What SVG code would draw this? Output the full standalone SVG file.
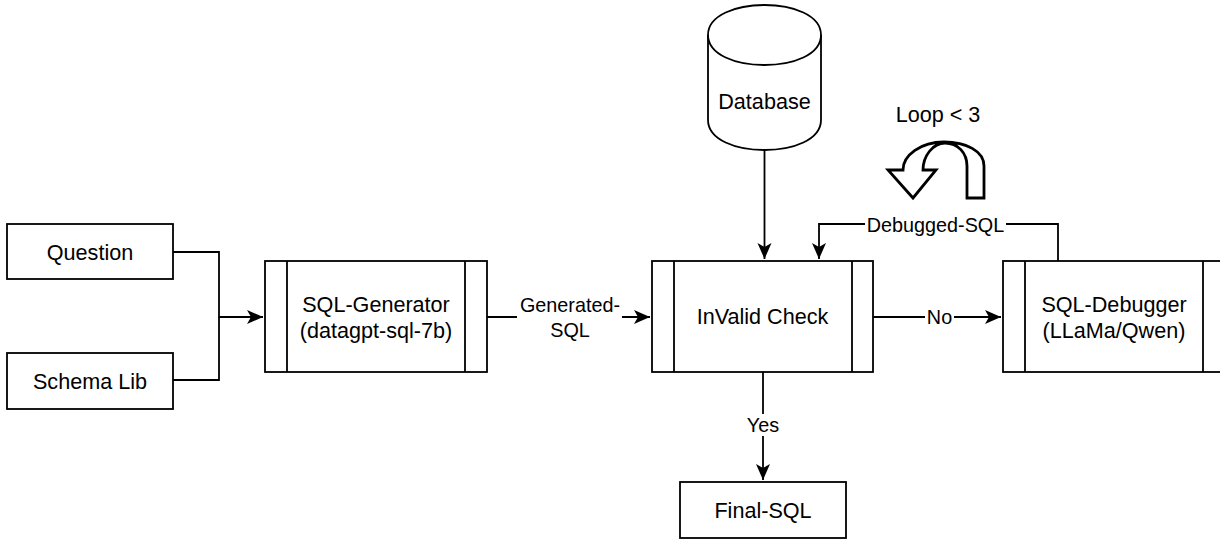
<svg xmlns="http://www.w3.org/2000/svg" width="1220" height="539" viewBox="0 0 1220 539">
<style>
.box{fill:#fff;stroke:#000;stroke-width:1.8}
.ln{fill:none;stroke:#000;stroke-width:1.8}
.t{font-family:"Liberation Sans",Arial,sans-serif;font-size:21.6px;fill:#000;text-anchor:middle}
.e{font-family:"Liberation Sans",Arial,sans-serif;font-size:19.8px;fill:#000;text-anchor:middle}
.bg{fill:#fff;stroke:none}
</style>
<defs>
<marker id="arr" markerUnits="userSpaceOnUse" markerWidth="18" markerHeight="16" refX="16" refY="7" orient="auto">
<path d="M0,0 L16,7 L0,14 L4,7 Z" fill="#000"/>
</marker>
</defs>
<rect width="1220" height="539" fill="#fff"/>
<g id="connectors">
<path class="ln" d="M173,252 H219 V317 H263" marker-end="url(#arr)"/>
<path class="ln" d="M173,380 H219 V317"/>
<path class="ln" d="M487,317 H650" marker-end="url(#arr)"/>
<path class="ln" d="M764.5,150 V259" marker-end="url(#arr)"/>
<path class="ln" d="M873,317 H1001" marker-end="url(#arr)"/>
<path class="ln" d="M1058,261 V224 H819 V259" marker-end="url(#arr)"/>
<path class="ln" d="M763,372 V480" marker-end="url(#arr)"/>
<rect class="bg" x="517" y="294" width="105" height="46"/>
<text class="e" x="570" y="311.5">Generated-</text>
<text class="e" x="570" y="337.3">SQL</text>
<rect class="bg" x="925" y="307" width="29" height="20"/>
<text class="e" x="939.5" y="324">No</text>
<rect class="bg" x="748" y="414" width="30" height="22"/>
<text class="e" x="763" y="431.7">Yes</text>
<rect class="bg" x="865" y="214" width="141" height="21"/>
<text class="e" x="935.5" y="231.7">Debugged-SQL</text>
</g>
<g id="question">
<rect class="box" x="7" y="224" width="166" height="55"/>
<text class="t" x="90" y="260">Question</text>
</g>
<g id="schema-lib">
<rect class="box" x="7" y="353" width="166" height="56"/>
<text class="t" x="90" y="389">Schema Lib</text>
</g>
<g id="sql-generator">
<rect class="box" x="265" y="261" width="222" height="111"/>
<path class="ln" d="M287,261 V372 M465,261 V372"/>
<text class="t" x="376" y="311.5">SQL-Generator</text>
<text class="t" x="376" y="337.5">(datagpt-sql-7b)</text>
</g>
<g id="database">
<path class="box" d="M708,35 C708,-5 821,-5 821,35 L821,120 C821,160 708,160 708,120 Z"/>
<path class="ln" d="M708,35 C708,75 821,75 821,35"/>
<text class="t" x="764.5" y="109">Database</text>
</g>
<g id="invalid-check">
<rect class="box" x="652" y="261" width="221" height="111"/>
<path class="ln" d="M674,261 V372 M852,261 V372"/>
<text class="t" x="762.5" y="324">InValid Check</text>
</g>
<g id="final-sql">
<rect class="box" x="680" y="482" width="166" height="56"/>
<text class="t" x="763" y="518">Final-SQL</text>
</g>
<g id="sql-debugger">
<rect class="box" x="1003" y="261" width="222" height="111"/>
<path class="ln" d="M1025,261 V372 M1203,261 V372"/>
<text class="t" x="1114" y="311.5">SQL-Debugger</text>
<text class="t" x="1114" y="337.5">(LLaMa/Qwen)</text>
</g>
<g id="loop">
<text class="t" x="938" y="121.7">Loop &lt; 3</text>
<path d="M984,198 L984,166 C984,151 966,142 944,142 C921,142 903,155 903,170 L888,170 L913,198 L936,170 L923,170 C923,156 933,143 945,143 C958,143 967,153 967,166 L967,198 Z" fill="#fff" stroke="#000" stroke-width="2.8" stroke-linejoin="miter"/>
</g>
</svg>
